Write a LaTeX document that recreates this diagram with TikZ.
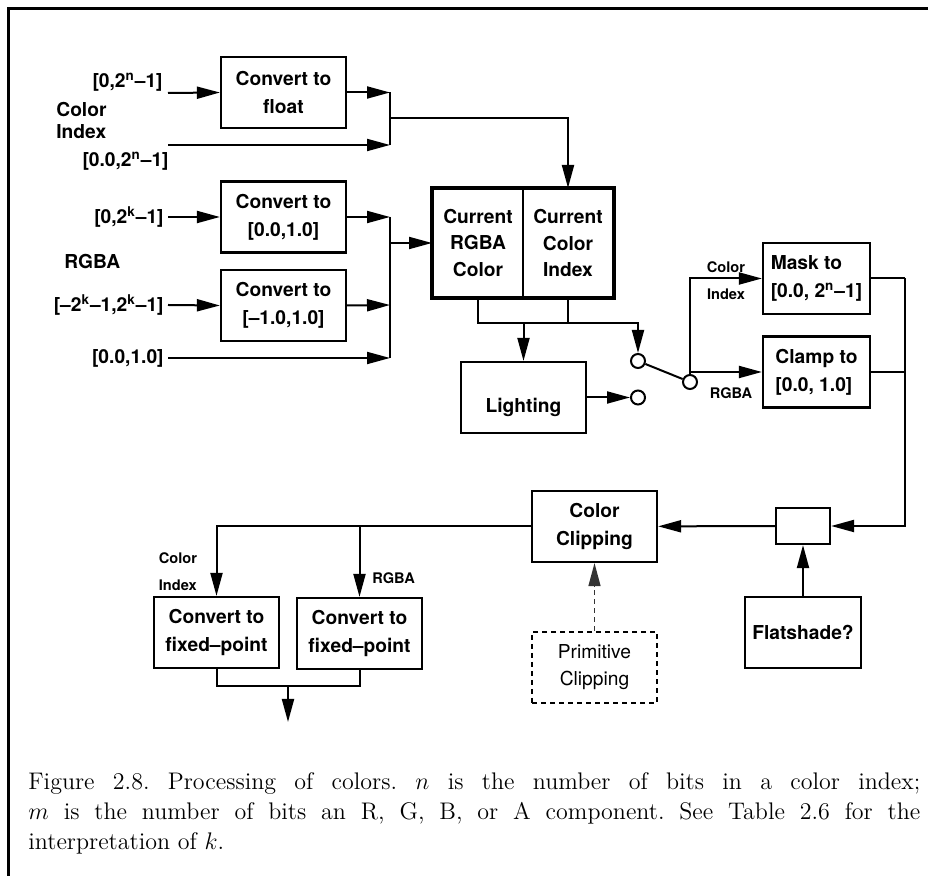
\documentclass[tikz,border=0pt]{standalone}
\usepackage{fontspec}
\newfontfamily\helvfont{TeX Gyre Heros}
\usepackage{tikz}
\usetikzlibrary{arrows.meta}
\tikzset{
boxnodev1/.style={rectangle, draw=black!100, fill=none, line width=1.1pt, inner sep=0pt, minimum width=62.5pt, minimum height=35.5pt, align=center, font=\helvfont\bfseries\fontsize{9.6}{14}\selectfont},
boxnodev2/.style={boxnodev1, dash pattern=on 2.5pt off 2pt, font=\helvfont\fontsize{9.6}{13.5}\selectfont},
halfnode/.style={boxnodev1, line width=1pt, minimum width=45pt, minimum height=54pt, font=\helvfont\bfseries\fontsize{9.6}{13.3}\selectfont},
switchvertex/.style={circle, draw=black!100, fill=white, line width=1pt, inner sep=0pt, minimum size=7pt},
dummylabel/.style={inner sep=0pt, align=left, font=\helvfont\bfseries\fontsize{9.6}{14}\selectfont},
smalllabel/.style={dummylabel, font=\helvfont\bfseries\fontsize{7.3}{13.5}\selectfont},
flowline/.style={line width=1pt, black},
flowarrow/.style={flowline, -{Triangle[length=11.5pt, width=6pt]}},
}
\begin{document}
\begin{tikzpicture}[x=0.5pt,y=-0.5pt]
    \useasboundingbox (0,0) rectangle (928,876);
    \draw[line width=1.5pt] (8,876) -- (8,8.5) -- (928,8.5);

    \node[boxnodev1] at (283.5,92.5) (tofloat) {Convert to\\float};
    \node[boxnodev1] at (283.5,217) (tounit) {Convert to\\{}[0.0,1.0]};
    \node[boxnodev1] at (283.5,305.5) (tosigned) {Convert to\\{}[–1.0,1.0]};
    \node[dummylabel, anchor=east] at (163,82) (lbln1) {[0,2\textsuperscript{n}–1]};
    \node[dummylabel, anchor=west, font=\helvfont\bfseries\fontsize{9.6}{11}\selectfont] at (56,120) (lblci) {Color\\Index};
    \node[dummylabel, anchor=east] at (169,161) (lbln2) {[0.0,2\textsuperscript{n}–1]};
    \node[dummylabel, anchor=east] at (164,217) (lblk1) {[0,2\textsuperscript{k}–1]};
    \node[dummylabel, anchor=west] at (64,262) (lblrgba) {RGBA};
    \node[dummylabel, anchor=east] at (164,305) (lblk2) {[–2\textsuperscript{k}–1,2\textsuperscript{k}–1]};
    \node[dummylabel, anchor=east] at (164,358) (lblone) {[0.0,1.0]};
    \coordinate (inn1) at (168,93);
    \coordinate (inn2) at (168,145);
    \coordinate (ink1) at (168,217);
    \coordinate (ink2) at (168,305);
    \coordinate (inone) at (168,358);
    \coordinate (mrgn1) at (390,92.5);
    \coordinate (mrgn2) at (390,145);
    \coordinate (mrgnout) at (390,118);
    \coordinate (mrgk1) at (390,217);
    \coordinate (mrgk2) at (390,305);
    \coordinate (mrgone) at (390,358);
    \coordinate (mrgkout) at (390,243);

    \node[halfnode] at (478,243) (currgba) {Current\\RGBA\\Color};
    \node[halfnode] at (568,243) (curidx) {Current\\Color\\Index};
    \draw[line width=2pt] (currgba.north west) rectangle (curidx.south east);
    \coordinate (busl) at (478,323);
    \coordinate (busr) at (568,323);
    \node[boxnodev1] at (523.5,397.5) (lighting) {};
    \node[dummylabel] at (523.5,407) (lightingtext) {Lighting};
    \node[switchvertex] at (638,361) (swa) {};
    \node[switchvertex] at (638,397.5) (swb) {};
    \node[switchvertex] at (690,382) (swc) {};
    \node[boxnodev1, align=left, minimum width=53.5pt] at (816.5,278.5) (mask) {Mask to\\{}[0.0, 2\textsuperscript{n}–1]};
    \node[boxnodev1, align=left, minimum width=53.5pt] at (816.5,372) (clamp) {Clamp to\\{}[0.0, 1.0]};
    \node[smalllabel, align=center] at (726,281) (lblswci) {Color\\Index};
    \node[smalllabel] at (731,393) (lblswrgba) {RGBA};
    \coordinate (jmask) at (905,278.5);

    \node[boxnodev1, minimum width=27pt, minimum height=18pt] at (803,526) (shadesel) {};
    \node[boxnodev1, minimum width=58pt] at (803,632.5) (flatshade) {Flatshade?};
    \node[boxnodev1] at (594.5,526.5) (colclip) {Color\\Clipping};
    \node[boxnodev2] at (594.5,667.5) (primclip) {Primitive\\Clipping};
    \node[boxnodev1] at (216.5,632.5) (fixci) {Convert to\\fixed–point};
    \node[boxnodev1] at (359.5,633.5) (fixrgba) {Convert to\\fixed–point};
    \node[smalllabel] at (178,572) (lblfixci) {Color\\Index};
    \node[smalllabel, anchor=west] at (372,578) (lblfixrgba) {RGBA};
    \coordinate (outl) at (216.5,686);
    \coordinate (outend) at (288,722);

     \draw[flowarrow] (inn1) to (tofloat.west);
     \draw[flowarrow] (tofloat.east) to (mrgn1);
     \draw[flowarrow] (inn2) to (mrgn2);
     \draw[flowline] (mrgn1) to (mrgn2);
     \draw[flowarrow] (mrgnout) -| (curidx.north);
     \draw[flowarrow] (ink1) to (tounit.west);
     \draw[flowarrow] (tounit.east) to (mrgk1);
     \draw[flowarrow] (ink2) to (tosigned.west);
     \draw[flowarrow] (tosigned.east) to (mrgk2);
     \draw[flowarrow] (inone) to (mrgone);
     \draw[flowline] (mrgk1) to (mrgone);
     \draw[flowarrow] (mrgkout) to (currgba.west);
     \draw[flowline] (currgba.south) -- (busl) -- (busr) -- (curidx.south);
     \draw[flowarrow] (busr) -| (swa.north);
     \draw[flowarrow] (lighting.north |- busl) to (lighting.north);
     \draw[flowarrow] (lighting.east |- swb) to (swb);
     \draw[flowline] (swa) to (swc);
     \draw[flowarrow] (swc.north) |- (mask.west);
     \draw[flowarrow] (swc.north |- clamp.west) to (clamp.west);
     \draw[flowline] (mask.east) to (jmask);
     \draw[flowline] (clamp.east) to (clamp.east -| jmask);
     \draw[flowarrow] (jmask) |- (shadesel.east);
     \draw[flowarrow] (flatshade) to (shadesel);
     \draw[flowarrow] (shadesel) to (colclip);
     \draw[flowarrow, line width=0.7pt, dash pattern=on 2.5pt off 2pt, black!80] (primclip) to (colclip);
     \draw[flowarrow] (colclip.west) -| (fixci.north);
     \draw[flowarrow] (fixrgba.north |- colclip.west) to (fixrgba.north);
     \draw[flowline] (fixci.south) -- (outl) -| (fixrgba.south);
     \draw[flowarrow] (outend |- outl) to (outend);

    \node[anchor=north west, inner sep=0pt, text width=446pt, align=justify, font=\fontsize{12}{15}\selectfont\frenchspacing] at (28,772) (caption) {Figure 2.8. Processing of colors. $n$ is the number of bits in a color index;\linebreak $m$ is the number of bits an R, G, B, or A component. See Table 2.6 for the\linebreak interpretation of $k$.};
\end{tikzpicture}
\end{document}
